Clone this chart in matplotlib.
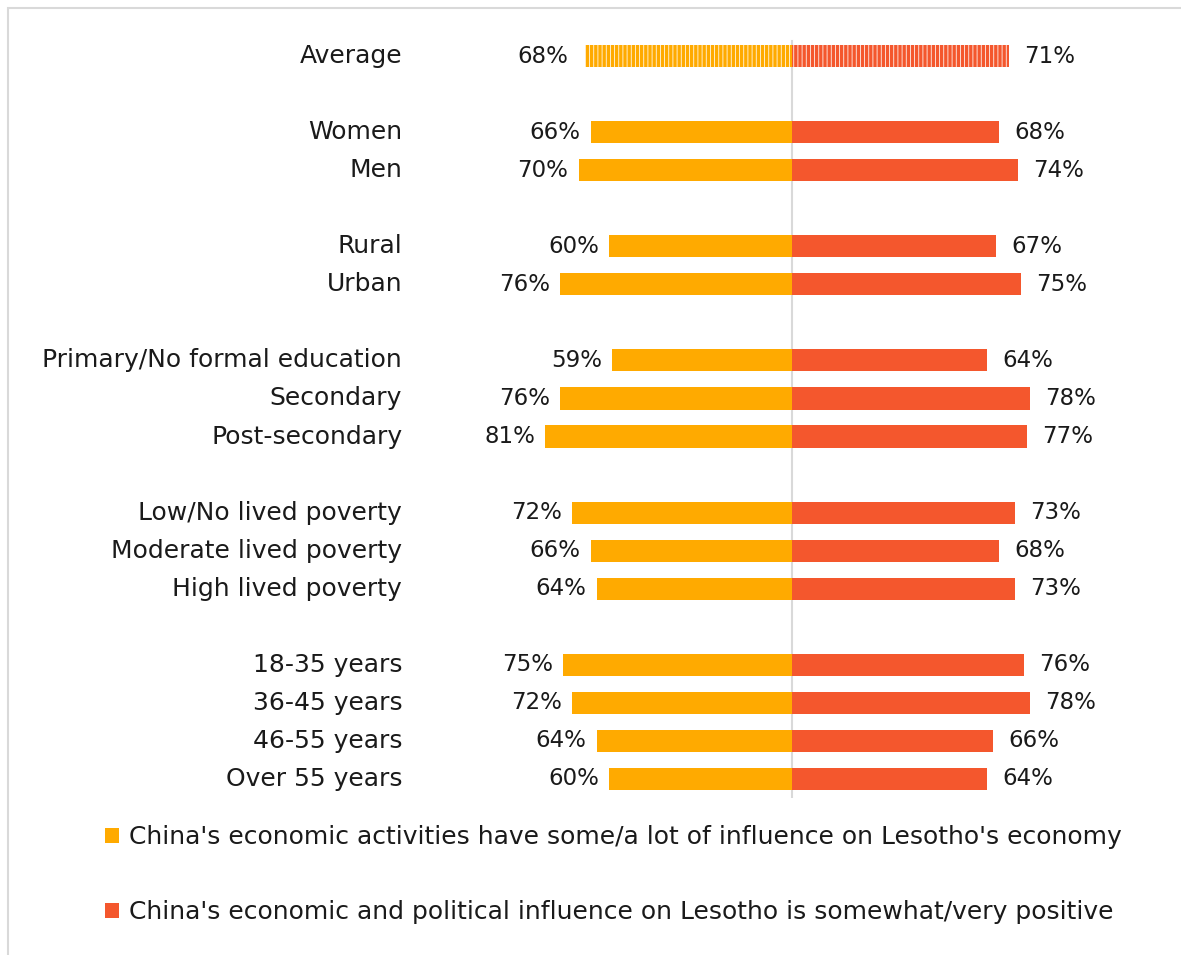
import matplotlib
matplotlib.use("Agg")
import matplotlib.pyplot as plt
from matplotlib.patches import Patch, Rectangle

plt.rcParams['font.family'] = ['DejaVu Sans']
plt.rcParams['hatch.linewidth'] = 0.55

categories = ["Average", "Women", "Men", "Rural", "Urban",
              "Primary/No formal education", "Secondary", "Post-secondary",
              "Low/No lived poverty", "Moderate lived poverty", "High lived poverty",
              "18-35 years", "36-45 years", "46-55 years", "Over 55 years"]
influence = [68, 66, 70, 60, 76, 59, 76, 81, 72, 66, 64, 75, 72, 64, 60]
positive = [71, 68, 74, 67, 75, 64, 78, 77, 73, 68, 73, 76, 78, 66, 64]
series_labels = ["China's economic activities have some/a lot of influence on Lesotho's economy",
                 "China's economic and political influence on Lesotho is somewhat/very positive"]

# row slots, with a blank slot between groups
rows = [0, 2, 3, 5, 6, 8, 9, 10, 12, 13, 14, 16, 17, 18, 19]

c_left = '#FFAA00'
c_right = '#F4572D'
txt = '#1a1a1a'
fs_num = 16.5
fs_txt = 18

W, H = 1181, 955
fig = plt.figure(figsize=(W / 100, H / 100), dpi=100)

# outer frame
fig.patches.append(Rectangle((8 / W, -0.1), 1.2, 1 - 8 / H + 0.1, transform=fig.transFigure,
                             fill=False, edgecolor='#D9D9D9', linewidth=1.5))

ax_l, ax_r, ax_t, ax_b = 410, 1174, 37, 798
ax = fig.add_axes([ax_l / W, 1 - ax_b / H, (ax_r - ax_l) / W, (ax_b - ax_t) / H])
ax.set_xlim(-125.25, 125.25)
ax.set_ylim(19.5, -0.5)
ax.axis('off')

ax.axvline(0, color='#D9D9D9', linewidth=1.5, zorder=0, ymin=0, ymax=0.995)

bh = 0.58
for i, (r, a, b, cat) in enumerate(zip(rows, influence, positive, categories)):
    if i == 0:
        ax.barh(r, -a, height=bh, color=c_left, edgecolor='white', linewidth=0, hatch='||||')
        ax.barh(r, b, height=bh, color=c_right, edgecolor='white', linewidth=0, hatch='||||')
        loff = 5.5
    else:
        ax.barh(r, -a, height=bh, color=c_left, linewidth=0)
        ax.barh(r, b, height=bh, color=c_right, linewidth=0)
        loff = 3.3
    ax.text(-a - loff, r, f"{a}%", ha='right', va='center', fontsize=fs_num, color=txt)
    ax.text(b + 5.0, r, f"{b}%", ha='left', va='center', fontsize=fs_num, color=txt)
    ax.text(-127.8, r, cat, ha='right', va='center', fontsize=fs_txt, color=txt, clip_on=False)

handles = [Patch(facecolor=c_left, edgecolor='none'), Patch(facecolor=c_right, edgecolor='none')]
fig.legend(handles, series_labels, loc='upper left', bbox_to_anchor=(105 / W, 1 - 825 / H),
           frameon=False, fontsize=fs_txt, handlelength=0.55, handleheight=0.55,
           handletextpad=0.4, labelspacing=2.05, labelcolor=txt, borderaxespad=0, borderpad=0)

fig.savefig('out.png', dpi=100)
